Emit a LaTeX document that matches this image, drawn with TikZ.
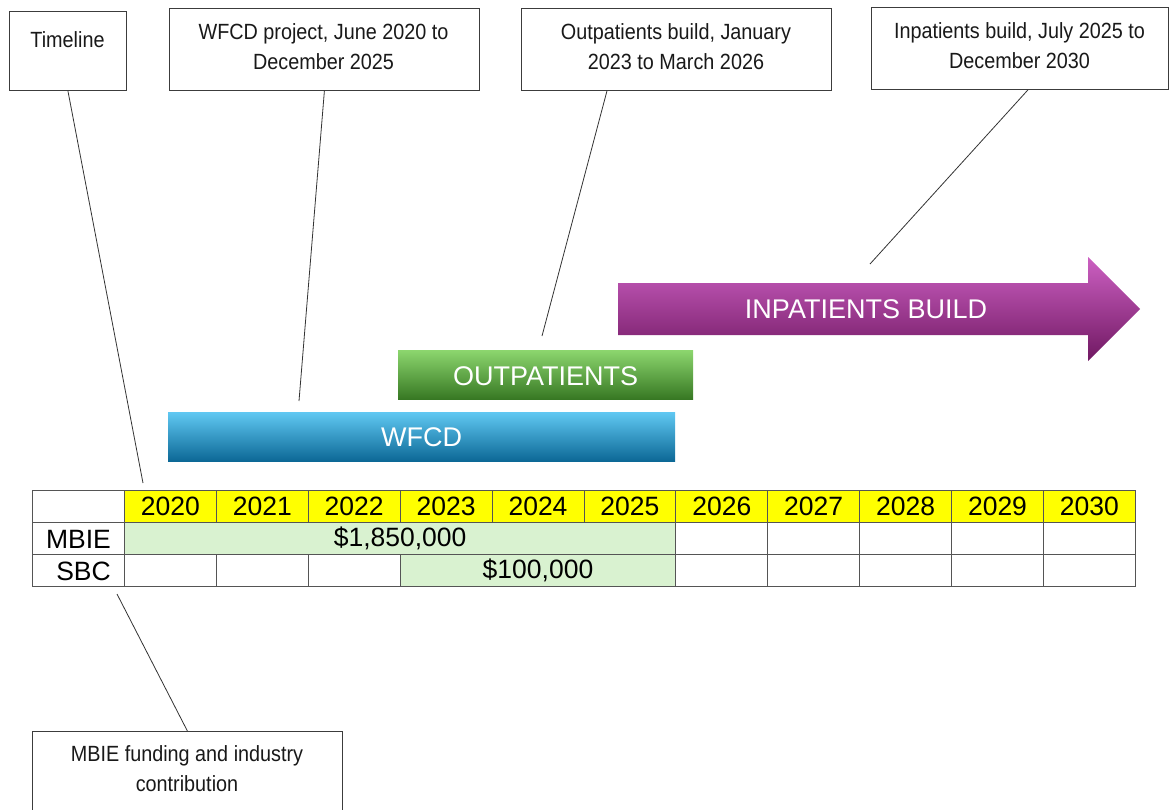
\documentclass[tikz,border=0pt]{standalone}
\usepackage{fontspec}
\setmainfont{Liberation Sans}
\newfontfamily\narrowfont[FakeStretch=0.9]{Liberation Sans}
\definecolor{boxline}{RGB}{60,60,60}
\definecolor{gridline}{RGB}{85,85,85}
\definecolor{fundgreen}{RGB}{217,242,208}
\definecolor{yearyellow}{RGB}{255,255,0}
\definecolor{blueA}{RGB}{96,200,242}
\definecolor{blueB}{RGB}{20,166,224}
\definecolor{blueC}{RGB}{12,104,150}
\definecolor{greenA}{RGB}{140,214,110}
\definecolor{greenB}{RGB}{80,170,45}
\definecolor{greenC}{RGB}{55,120,35}
\definecolor{purpA}{RGB}{204,96,194}
\definecolor{purpB}{RGB}{160,40,145}
\definecolor{purpC}{RGB}{112,24,98}
\begin{document}
\begin{tikzpicture}[x=1pt,y=-1pt,
  callout/.style={draw=boxline, line width=0.8pt, fill=white, inner sep=0pt, anchor=north west},
  calltext/.style={font=\narrowfont\fontsize{22}{30}\selectfont, align=center, inner sep=0pt, text=black!90},
  leader/.style={draw=black!80, line width=0.8pt},
  bartext/.style={font=\fontsize{27}{32}\selectfont, text=white, inner sep=0pt},
  bar/.style={anchor=north west, inner sep=0pt},
  tabfont/.style={font=\fontsize{26.5}{30}\selectfont},
  cell/.style={draw=gridline, line width=0.9pt, minimum height=32pt, inner sep=0pt,
    anchor=north west, tabfont},
]
\useasboundingbox (0,0) rectangle (1174,809);
\clip (0,0) rectangle (1174,809);

% ---- callout boxes ----
\node[callout, minimum width=117pt, minimum height=79pt] (tl) at (9,11) {};
\node[calltext] at (67.5,40) {Timeline};
\node[callout, minimum width=310pt, minimum height=82pt] (wf) at (169,8) {};
\node[calltext] at (323.5,47) {WFCD project, June 2020 to\\December 2025};
\node[callout, minimum width=310pt, minimum height=82pt] (op) at (521,8) {};
\node[calltext] at (676,47) {Outpatients build, January\\2023 to March 2026};
\node[callout, minimum width=297pt, minimum height=82pt] (ip) at (871,7) {};
\node[calltext] at (1019.5,46) {Inpatients build, July 2025 to\\December 2030};
\node[callout, minimum width=310pt, minimum height=90pt] (mb) at (32,731) {};
\node[calltext] at (187,769) {MBIE funding and industry\\contribution};

% ---- project bars ----
\node[bar, minimum width=507pt, minimum height=49pt,
  top color=blueA, middle color=blueB, bottom color=blueC] (wfcd) at (168,412) {};
\node[bartext] at (wfcd.center) {WFCD};
\node[bar, minimum width=295pt, minimum height=49pt,
  top color=greenA, middle color=greenB, bottom color=greenC] (outp) at (398,350) {};
\node[bartext] at ([yshift=-1pt]outp.center) {OUTPATIENTS};
\shade[top color=purpA, middle color=purpB, bottom color=purpC]
  (618,283) -- (1088,283) -- (1088,257) -- (1140,309) -- (1088,361)
  -- (1088,335) -- (618,335) -- cycle;
\node[bartext] (inp) at (866,309) {INPATIENTS BUILD};

% ---- funding table ----
\def\colw{91.9}
\node[cell, minimum width=92pt, fill=white] (hdr) at (32,490) {};
\node[cell, minimum width=92pt, fill=white] (rmbie) at (32,522) {};
\node[anchor=east, inner sep=0pt, tabfont] at (111,539) {MBIE};
\node[cell, minimum width=92pt, fill=white] (rsbc) at (32,554) {};
\node[anchor=east, inner sep=0pt, tabfont] at (111,571) {SBC};
\foreach \yr [count=\i from 0] in {2020,...,2030}{
  \node[cell, minimum width=\colw pt, fill=yearyellow] (y\yr) at ({124+\colw*\i},490) {\yr};
}
% MBIE row
\node[cell, minimum width={6*\colw pt}, fill=fundgreen] (mbfund) at (124,522) {\raisebox{-2pt}{\$1,850,000}};
\foreach \yr [count=\i from 6] in {2026,...,2030}{
  \node[cell, minimum width=\colw pt, fill=white] (m\yr) at ({124+\colw*\i},522) {};
}
% SBC row
\foreach \yr [count=\i from 0] in {2020,2021,2022}{
  \node[cell, minimum width=\colw pt, fill=white] (s\yr) at ({124+\colw*\i},554) {};
}
\node[cell, minimum width={3*\colw pt}, fill=fundgreen] (sbfund) at ({124+3*\colw},554) {\raisebox{-2pt}{\$100,000}};
\foreach \yr [count=\i from 6] in {2026,...,2030}{
  \node[cell, minimum width=\colw pt, fill=white] (s\yr) at ({124+\colw*\i},554) {};
}

% ---- leader lines ----
\coordinate (tl-end) at (143,483);
\coordinate (wf-end) at (299,401);
\coordinate (op-end) at (542,336);
\coordinate (ip-end) at (870,264);
\coordinate (mb-end) at (117,594);
\draw[leader] (tl.south) -- (tl-end);
\draw[leader] (wf.south) -- (wf-end);
\draw[leader] (op.south -| 607,0) -- (op-end);
\draw[leader] (ip.south -| 1028,0) -- (ip-end);
\draw[leader] (mb.north) -- (mb-end);
\end{tikzpicture}
\end{document}
